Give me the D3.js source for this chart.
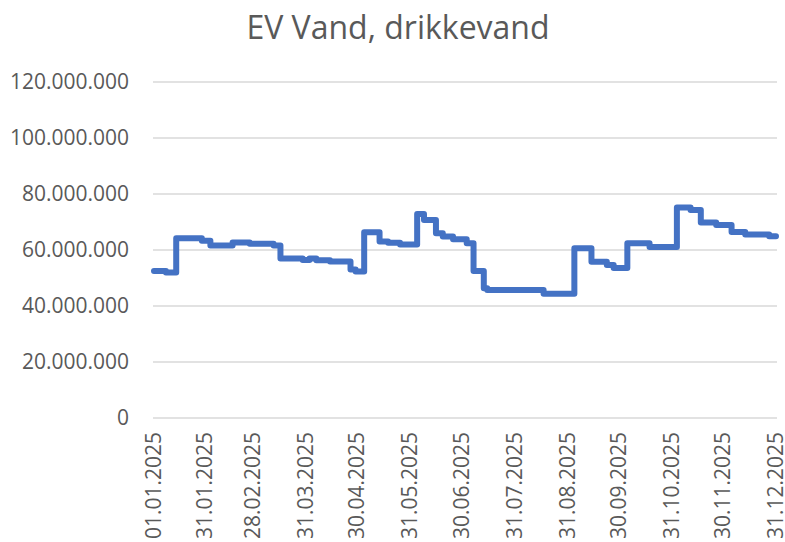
<!DOCTYPE html>
<html>
<head>
<meta charset="utf-8">
<script src="https://cdn.jsdelivr.net/npm/d3@7"></script>
<style>
  body { margin: 0; background: #fff; }
  svg text { font-family: "Open Sans", "Noto Sans", sans-serif; fill: #595959; }
</style>
</head>
<body>
<div id="chart"></div>
<script>
// step start dates and value at each step (liters)
var stepDates = ["2025-01-01","2025-01-08","2025-01-14","2025-01-29","2025-02-03","2025-02-16","2025-02-26",
  "2025-03-12","2025-03-16","2025-03-29","2025-04-02","2025-04-06","2025-04-14","2025-04-26","2025-04-29",
  "2025-05-04","2025-05-13","2025-05-18","2025-05-25","2025-06-04","2025-06-08","2025-06-15","2025-06-19",
  "2025-06-25","2025-07-03","2025-07-07","2025-07-13","2025-07-15","2025-08-17","2025-09-04","2025-09-14",
  "2025-09-23","2025-09-27","2025-10-05","2025-10-18","2025-11-03","2025-11-11","2025-11-17","2025-11-26",
  "2025-12-05","2025-12-13","2025-12-27","2025-12-31"];
var stepValues = [52.5,52.0,64.2,63.3,61.6,62.7,62.2,
  61.6,57.0,56.4,57.0,56.3,55.9,53.0,52.3,
  66.3,63.0,62.6,62.0,72.9,70.7,66.0,64.8,
  63.8,62.4,52.5,46.3,45.7,44.4,60.6,55.8,
  54.6,53.6,62.4,61.1,75.2,74.3,69.8,68.9,
  66.4,65.5,64.9,64.9].map(function(v) { return v * 1e6; });

var tickDates = ["2025-01-01","2025-01-31","2025-02-28","2025-03-31","2025-04-30","2025-05-31","2025-06-30",
  "2025-07-31","2025-08-31","2025-09-30","2025-10-31","2025-11-30","2025-12-31"];
var yTicks = [0, 20e6, 40e6, 60e6, 80e6, 100e6, 120e6];

var W = 785, H = 542;
var parse = d3.timeParse("%Y-%m-%d");
var fmtX = d3.timeFormat("%d.%m.%Y");
var fmtY = function(v) { return v === 0 ? "0" : d3.format(",")(v).replace(/,/g, "."); };

var data = stepDates.map(function(d, i) { return { date: parse(d), value: stepValues[i] }; });

var svg = d3.select("#chart").append("svg").attr("width", W).attr("height", H);

var x = d3.scaleTime()
  .domain([parse("2025-01-01"), parse("2025-12-31")])
  .range([154, 776]);
var y = d3.scaleLinear().domain([0, 120e6]).range([418, 82]);

svg.append("text")
  .attr("x", 398).attr("y", 39)
  .attr("text-anchor", "middle")
  .attr("font-size", 32)
  .text("EV Vand, drikkevand");

// grid
svg.append("g").selectAll("line")
  .data(yTicks)
  .enter().append("line")
    .attr("x1", 153).attr("x2", 777)
    .attr("y1", function(d) { return y(d); })
    .attr("y2", function(d) { return y(d); })
    .attr("stroke", "#d9d9d9")
    .attr("stroke-width", 1.5);

// y labels
svg.append("g").selectAll("text")
  .data(yTicks)
  .enter().append("text")
    .attr("x", 129)
    .attr("y", function(d) { return y(d); })
    .attr("dy", "0.35em")
    .attr("text-anchor", "end")
    .attr("font-size", 21)
    .text(fmtY);

// x labels
svg.append("g").selectAll("text")
  .data(tickDates.map(parse))
  .enter().append("text")
    .attr("transform", function(d) { return "translate(" + (x(d) + 7) + ",432) rotate(-90)"; })
    .attr("text-anchor", "end")
    .attr("font-size", 21)
    .text(fmtX);

var line = d3.line()
  .x(function(d) { return x(d.date); })
  .y(function(d) { return y(d.value); })
  .curve(d3.curveStepAfter);

svg.append("path")
  .datum(data)
  .attr("d", line)
  .attr("fill", "none")
  .attr("stroke", "#4472c4")
  .attr("stroke-width", 6)
  .attr("stroke-linejoin", "round")
  .attr("stroke-linecap", "round");
</script>
</body>
</html>
